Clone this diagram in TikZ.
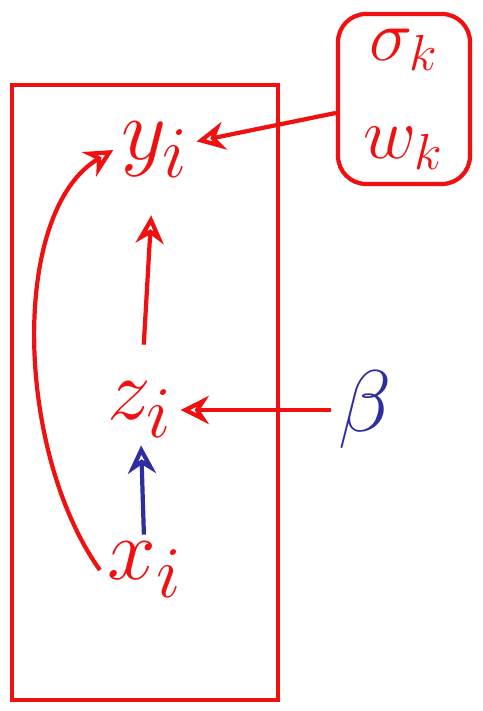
\documentclass[tikz,border=0pt]{standalone}
\usepackage{xcolor}
\usetikzlibrary{positioning, arrows.meta}
\definecolor{InkRed}{HTML}{F01010}
\definecolor{InkBlue}{HTML}{2E2E9E}

\begin{document}
\begin{tikzpicture}[
            var/.style={text=InkRed, font=\fontsize{30}{34}\selectfont, inner sep=2pt},
            param/.style={text=InkBlue, font=\fontsize{34}{38}\selectfont, inner sep=2pt},
            plate/.style={draw=InkRed, line width=1.2pt},
            arrow/.style={->, line width=1.2pt, InkRed, >={Stealth[length=8pt, width=8pt, open]}},
            bluearrow/.style={arrow, InkBlue}
        ]
            \useasboundingbox (0,0) rectangle (4.83,7.11);

            % plate
            \draw[plate] (0.12,6.26) rectangle (2.78,0.11);

            \node[var] (y) at (1.55,5.61) {$y_i$};
            \node[var] (z) at (1.40,3.01) {$z_i$};
            \node[var] (x) at (1.45,1.41) {$x_i$};
            \node[param] (beta) at (3.65,3.01) {$\beta$};

            % hyperparameter box
            \node[draw=InkRed, line width=1.2pt, rounded corners=8pt, inner sep=0pt, minimum width=1.32cm, minimum height=1.70cm, align=center, text=InkRed, font=\fontsize{22}{28}\selectfont] (sw) at (4.04,6.12) {$\sigma_k$\\$w_k$};

            \draw[arrow] (sw) -- (y);
            \draw[arrow] (beta) -- (z);
            \draw[bluearrow] (x) -- (z);
            \draw[arrow, shorten <=0.3cm, shorten >=0.3cm] (z) -- (y);
            \draw[arrow] (x.west) .. controls (0.15,2.6) and (0.1,5.0) .. (y.west);

        \end{tikzpicture}
\end{document}
